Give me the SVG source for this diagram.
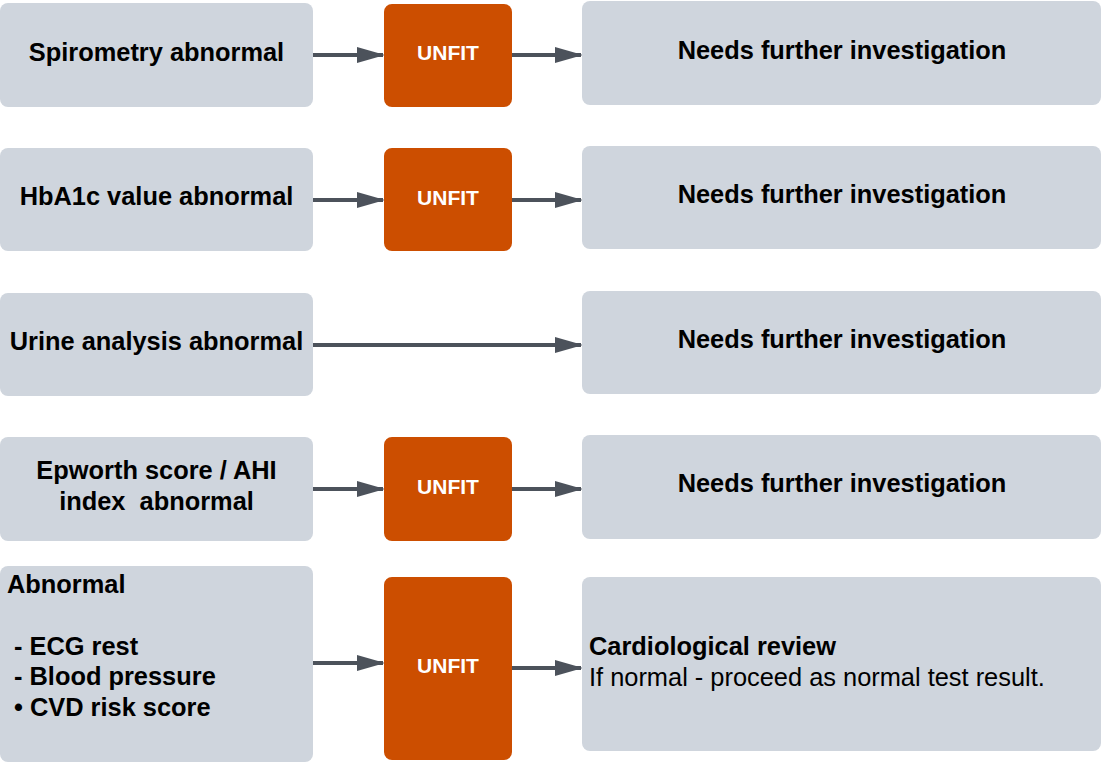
<svg xmlns="http://www.w3.org/2000/svg" width="1101" height="762" viewBox="0 0 1101 762">
<style>
.g{fill:#cfd5dd}
.o{fill:#cc4e00}
.t{font-family:"Liberation Sans",Arial,sans-serif;font-size:25.4px;font-weight:bold;fill:#000}
.c{text-anchor:middle}
.u{font-family:"Liberation Sans",Arial,sans-serif;font-size:21px;font-weight:bold;fill:#fff;text-anchor:middle}
.n{font-family:"Liberation Sans",Arial,sans-serif;font-size:25.4px;fill:#000}
.e{stroke:#4c525b;stroke-width:4;fill:none;marker-end:url(#ah)}
</style>
<defs>
<marker id="ah" markerWidth="7" markerHeight="4" refX="6.5" refY="2" orient="auto" markerUnits="strokeWidth">
<path d="M0,0 L7,2 L0,4 Z" fill="#4c525b"/>
</marker>
</defs>
<g id="connectors">
<line class="e" x1="313" y1="55" x2="383" y2="55"/>
<line class="e" x1="512" y1="55" x2="581" y2="55"/>
<line class="e" x1="313" y1="200" x2="383" y2="200"/>
<line class="e" x1="512" y1="200" x2="581" y2="200"/>
<line class="e" x1="313" y1="345" x2="581" y2="345"/>
<line class="e" x1="313" y1="489" x2="383" y2="489"/>
<line class="e" x1="512" y1="489" x2="581" y2="489"/>
<line class="e" x1="313" y1="663" x2="383" y2="663"/>
<line class="e" x1="512" y1="668" x2="581" y2="668"/>
</g>
<g id="n1"><rect class="g" x="0" y="3" width="313" height="104" rx="8"/><text class="t c" x="156.5" y="61">Spirometry abnormal</text></g>
<g id="u1"><rect class="o" x="384" y="4" width="128" height="103" rx="8"/><text class="u" x="448" y="60">UNFIT</text></g>
<g id="r1"><rect class="g" x="582" y="1" width="519" height="104" rx="8"/><text class="t c" x="842" y="59">Needs further investigation</text></g>

<g id="n2"><rect class="g" x="0" y="148" width="313" height="103" rx="8"/><text class="t c" x="156.5" y="205">HbA1c value abnormal</text></g>
<g id="u2"><rect class="o" x="384" y="148" width="128" height="103" rx="8"/><text class="u" x="448" y="205">UNFIT</text></g>
<g id="r2"><rect class="g" x="582" y="146" width="519" height="103" rx="8"/><text class="t c" x="842" y="203">Needs further investigation</text></g>

<g id="n3"><rect class="g" x="0" y="293" width="313" height="103" rx="8"/><text class="t c" x="156.5" y="350">Urine analysis abnormal</text></g>
<g id="r3"><rect class="g" x="582" y="291" width="519" height="103" rx="8"/><text class="t c" x="842" y="348">Needs further investigation</text></g>

<g id="n4"><rect class="g" x="0" y="437" width="313" height="104" rx="8"/><text class="t c" x="156.5" y="479">Epworth score / AHI</text><text class="t c" x="156.5" y="510" xml:space="preserve">index  abnormal</text></g>
<g id="u4"><rect class="o" x="384" y="437" width="128" height="104" rx="8"/><text class="u" x="448" y="494">UNFIT</text></g>
<g id="r4"><rect class="g" x="582" y="435" width="519" height="104" rx="8"/><text class="t c" x="842" y="492">Needs further investigation</text></g>

<g id="n5"><rect class="g" x="0" y="566" width="313" height="196" rx="8"/>
<text class="t" x="7" y="593">Abnormal</text>
<text class="t" x="14" y="655">- ECG rest</text>
<text class="t" x="14" y="685">- Blood pressure</text>
<text class="t" x="14" y="716">• CVD risk score</text></g>
<g id="u5"><rect class="o" x="384" y="577" width="128" height="183" rx="8"/><text class="u" x="448" y="673">UNFIT</text></g>
<g id="r5"><rect class="g" x="582" y="577" width="519" height="174" rx="8"/>
<text class="t" x="589" y="655">Cardiological review</text>
<text class="n" x="589" y="686">If normal - proceed as normal test result.</text></g>
</svg>
